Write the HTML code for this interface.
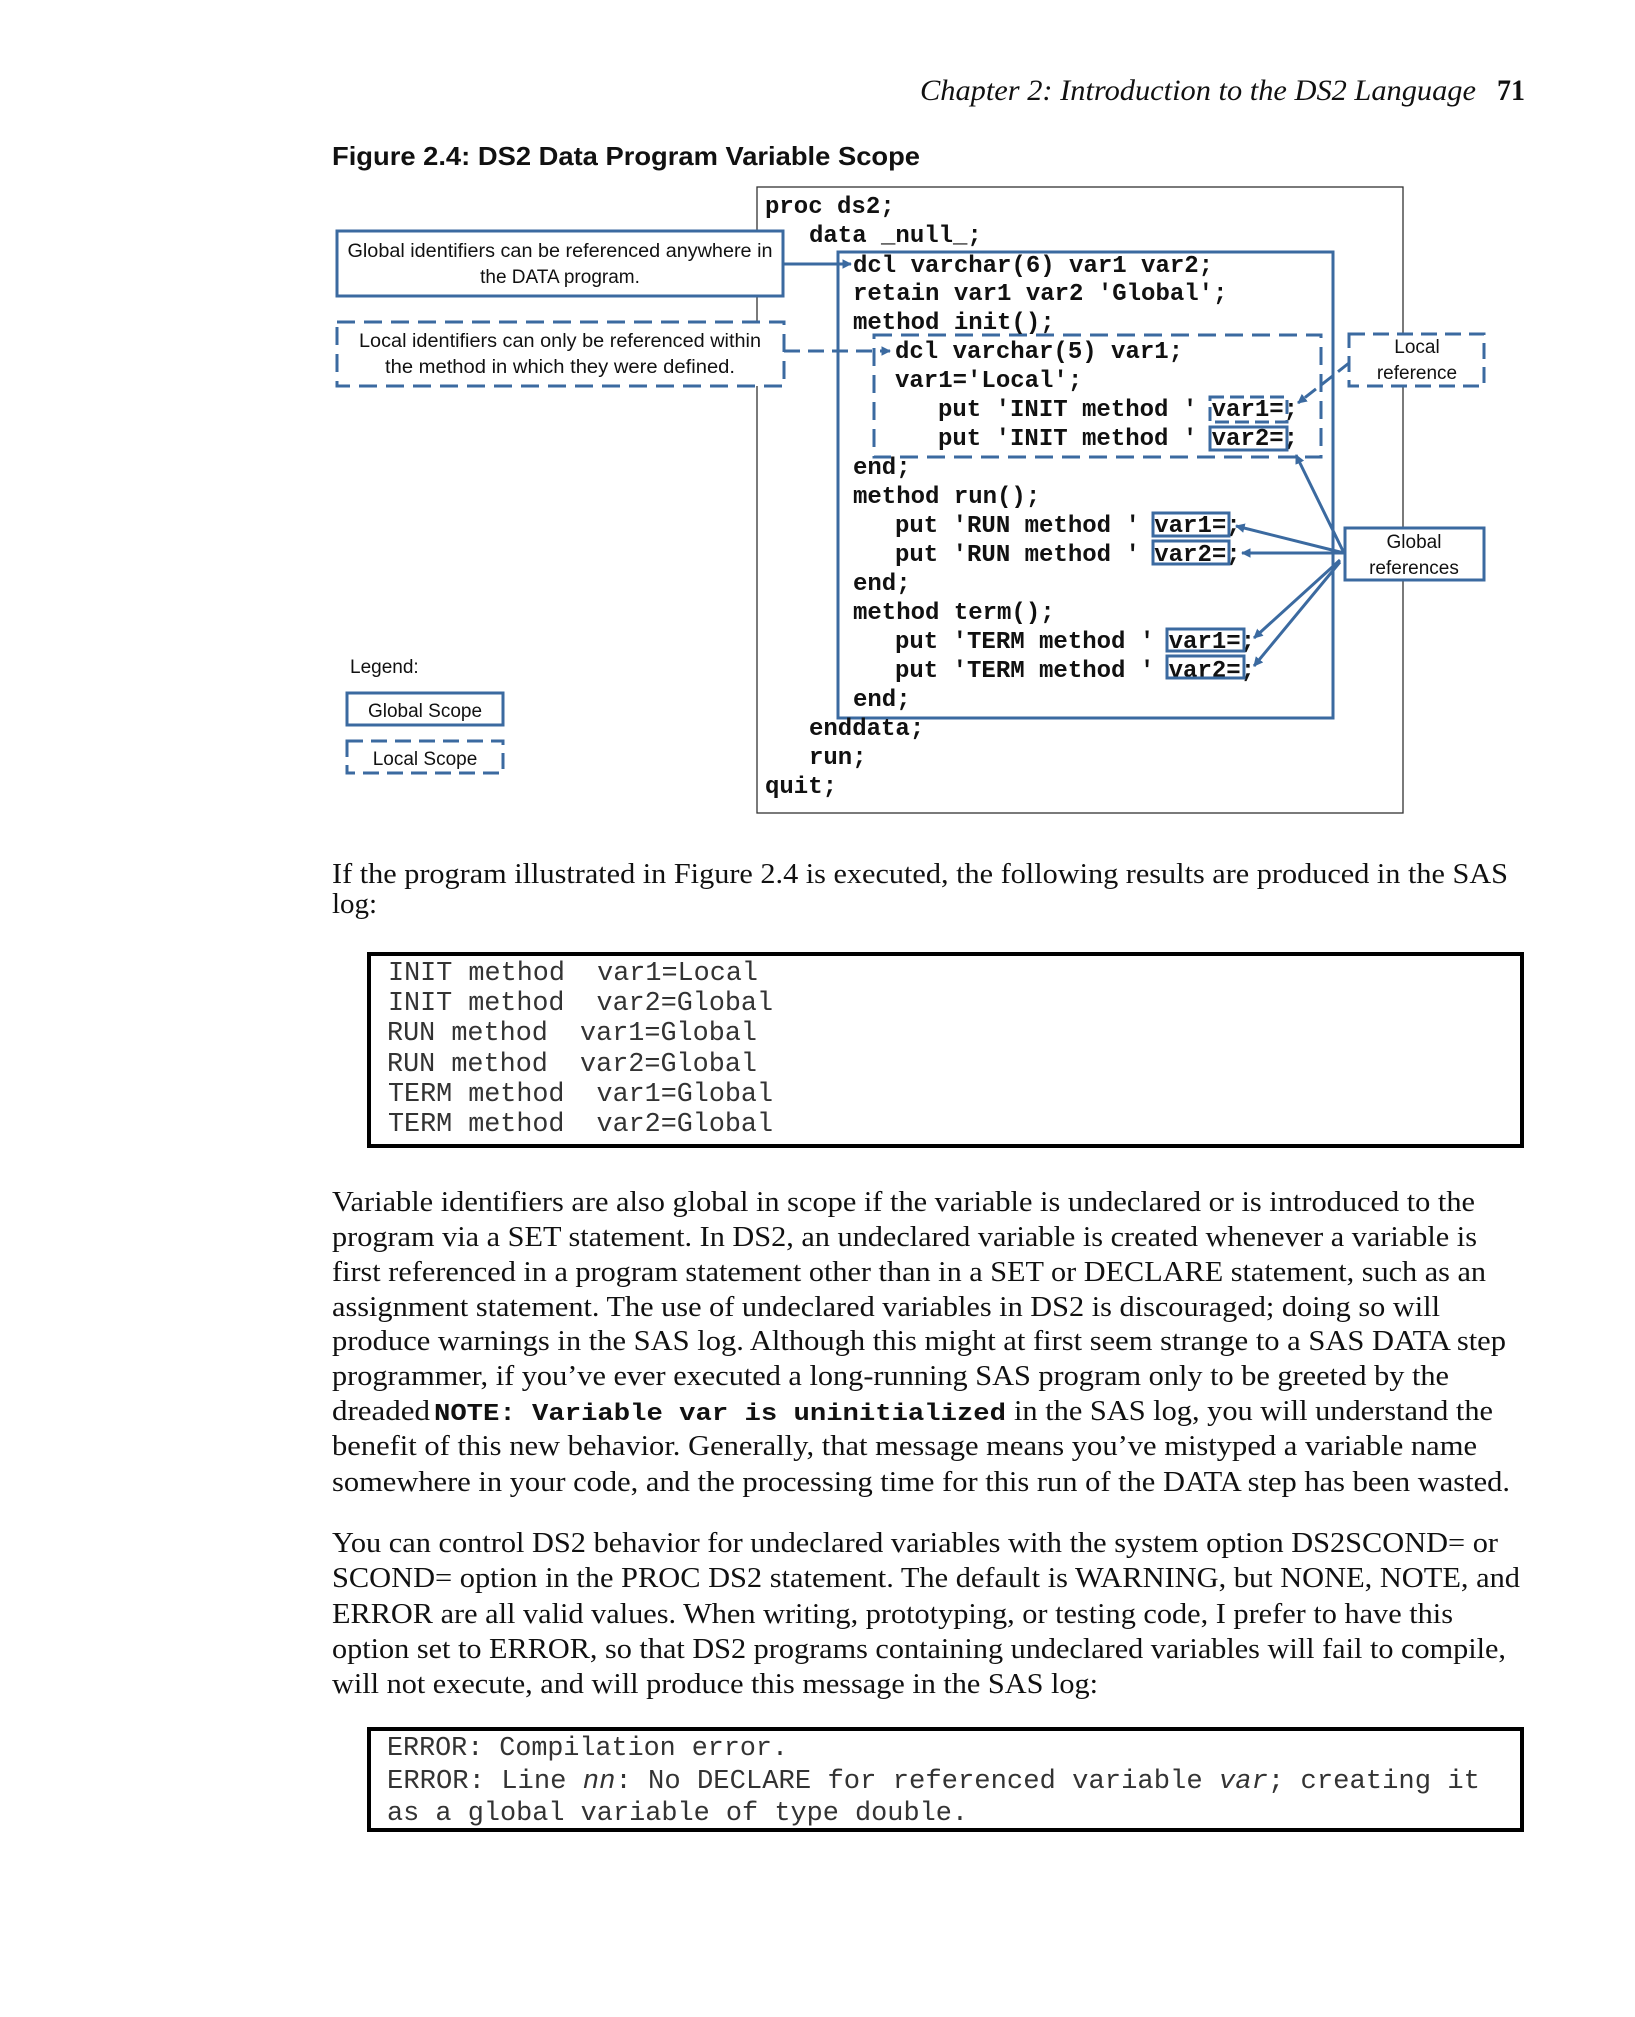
<!DOCTYPE html>
<html><head><meta charset="utf-8"><style>
html,body{margin:0;padding:0;background:#fff;}
svg{display:block;}
.code{font-family:"Liberation Mono",monospace;font-weight:bold;font-size:24px;fill:#111;}
.cal{font-family:"Liberation Sans",sans-serif;font-size:19px;fill:#111;}
.ser{font-family:"Liberation Serif",serif;font-size:29px;fill:#111;}
.log{font-family:"Liberation Mono",monospace;font-size:27px;fill:#333;}
</style></head><body>
<svg width="1635" height="2017" viewBox="0 0 1635 2017" xmlns="http://www.w3.org/2000/svg">
<defs>
<marker id="ah" viewBox="0 0 10 10" refX="9" refY="5" markerWidth="3.2" markerHeight="3.2" orient="auto"><path d="M0,0 L10,5 L0,10 z" fill="#3b6aa0"/></marker>
</defs>
<rect width="1635" height="2017" fill="#fff"/>
<text x="920" y="100" font-family="Liberation Serif,serif" font-style="italic" font-size="30" fill="#111" textLength="556" lengthAdjust="spacingAndGlyphs">Chapter 2: Introduction to the DS2 Language</text>
<text x="1497" y="100" font-family="Liberation Serif,serif" font-weight="bold" font-size="30" fill="#111" textLength="28" lengthAdjust="spacingAndGlyphs">71</text>
<text x="332" y="165" font-family="Liberation Sans,sans-serif" font-weight="bold" font-size="26" fill="#111" textLength="588" lengthAdjust="spacingAndGlyphs">Figure 2.4: DS2 Data Program Variable Scope</text>

<rect x="757" y="187" width="646" height="626" fill="none" stroke="#333" stroke-width="1.3"/>
<rect x="838" y="252" width="495" height="466" fill="none" stroke="#3b6aa0" stroke-width="3"/>
<rect x="874" y="335" width="447" height="122" fill="none" stroke="#3b6aa0" stroke-width="3" stroke-dasharray="18,9"/>

<rect x="337" y="231" width="446" height="65" fill="#fff" stroke="#3b6aa0" stroke-width="3"/>
<text class="cal" x="560" y="257" text-anchor="middle" textLength="425" lengthAdjust="spacingAndGlyphs">Global identifiers can be referenced anywhere in</text>
<text class="cal" x="560" y="283" text-anchor="middle">the DATA program.</text>
<rect x="337" y="322" width="447" height="64" fill="#fff" stroke="#3b6aa0" stroke-width="3" stroke-dasharray="18,9"/>
<text class="cal" x="560" y="347" text-anchor="middle" textLength="402" lengthAdjust="spacingAndGlyphs">Local identifiers can only be referenced within</text>
<text class="cal" x="560" y="373" text-anchor="middle" textLength="350" lengthAdjust="spacingAndGlyphs">the method in which they were defined.</text>
<line x1="783" y1="264" x2="851" y2="264" stroke="#3b6aa0" stroke-width="3" marker-end="url(#ah)"/>
<line x1="784" y1="351" x2="890" y2="351" stroke="#3b6aa0" stroke-width="3" stroke-dasharray="16,8" marker-end="url(#ah)"/>

<rect x="1349" y="334" width="135" height="52" fill="#fff" stroke="#3b6aa0" stroke-width="3" stroke-dasharray="16,8"/>
<text class="cal" x="1417" y="353" text-anchor="middle">Local</text>
<text class="cal" x="1417" y="379" text-anchor="middle">reference</text>
<rect x="1345" y="528" width="139" height="52" fill="#fff" stroke="#3b6aa0" stroke-width="3"/>
<text class="cal" x="1414" y="548" text-anchor="middle">Global</text>
<text class="cal" x="1414" y="574" text-anchor="middle">references</text>

<text class="cal" x="350" y="673" font-size="21">Legend:</text>
<rect x="347" y="693" width="156" height="32" fill="none" stroke="#3b6aa0" stroke-width="3"/>
<text class="cal" x="425" y="717" text-anchor="middle" font-size="21">Global Scope</text>
<rect x="347" y="741" width="156" height="32" fill="none" stroke="#3b6aa0" stroke-width="3" stroke-dasharray="16,8"/>
<text class="cal" x="425" y="765" text-anchor="middle" font-size="21">Local Scope</text>

<g class="code">
<text x="765" y="213">proc ds2;</text>
<text x="809" y="242">data _null_;</text>
<text x="853" y="272">dcl varchar(6) var1 var2;</text>
<text x="853" y="300">retain var1 var2 'Global';</text>
<text x="853" y="329">method init();</text>
<text x="895" y="358">dcl varchar(5) var1;</text>
<text x="895" y="387">var1='Local';</text>
<text x="938" y="416">put 'INIT method ' var1=;</text>
<text x="938" y="445">put 'INIT method ' var2=;</text>
<text x="853" y="474">end;</text>
<text x="853" y="503">method run();</text>
<text x="895" y="532">put 'RUN method ' var1=;</text>
<text x="895" y="561">put 'RUN method ' var2=;</text>
<text x="853" y="590">end;</text>
<text x="853" y="619">method term();</text>
<text x="895" y="648">put 'TERM method ' var1=;</text>
<text x="895" y="677">put 'TERM method ' var2=;</text>
<text x="853" y="706">end;</text>
<text x="809" y="735">enddata;</text>
<text x="809" y="764">run;</text>
<text x="765" y="793">quit;</text>
</g>
<g fill="none" stroke="#3b6aa0" stroke-width="3">
<rect x="1210" y="397" width="77" height="25" stroke-dasharray="14,6"/>
<rect x="1210" y="427" width="77" height="23"/>
<rect x="1153" y="513" width="76" height="23"/>
<rect x="1153" y="541" width="76" height="23"/>
<rect x="1167" y="629" width="77" height="22"/>
<rect x="1167" y="656" width="77" height="22"/>
</g>
<g stroke="#3b6aa0" stroke-width="3" fill="none">
<polyline points="1349,363 1330,378 1298,403" stroke-dasharray="14,7" marker-end="url(#ah)"/>
<line x1="1344" y1="553" x2="1296" y2="455" marker-end="url(#ah)"/>
<line x1="1344" y1="553" x2="1236" y2="526" marker-end="url(#ah)"/>
<line x1="1344" y1="553" x2="1242" y2="553" marker-end="url(#ah)"/>
<line x1="1340" y1="560" x2="1254" y2="638" marker-end="url(#ah)"/>
<line x1="1340" y1="562" x2="1254" y2="666" marker-end="url(#ah)"/>
</g>

<g class="ser">
<text x="332" y="883" textLength="1176" lengthAdjust="spacingAndGlyphs">If the program illustrated in Figure 2.4 is executed, the following results are produced in the SAS</text>
<text x="332" y="913">log:</text>
</g>
<rect x="369" y="954" width="1153" height="192" fill="none" stroke="#000" stroke-width="4"/>
<g class="log">
<text x="388" y="980" textLength="370" lengthAdjust="spacingAndGlyphs">INIT method &#160;var1=Local</text>
<text x="388" y="1010" textLength="385" lengthAdjust="spacingAndGlyphs">INIT method &#160;var2=Global</text>
<text x="387" y="1040" textLength="370" lengthAdjust="spacingAndGlyphs">RUN method &#160;var1=Global</text>
<text x="387" y="1071" textLength="370" lengthAdjust="spacingAndGlyphs">RUN method &#160;var2=Global</text>
<text x="388" y="1101" textLength="385" lengthAdjust="spacingAndGlyphs">TERM method &#160;var1=Global</text>
<text x="388" y="1131" textLength="385" lengthAdjust="spacingAndGlyphs">TERM method &#160;var2=Global</text>
</g>

<g class="ser">
<text x="332" y="1211" textLength="1143" lengthAdjust="spacingAndGlyphs">Variable identifiers are also global in scope if the variable is undeclared or is introduced to the</text>
<text x="332" y="1246" textLength="1145" lengthAdjust="spacingAndGlyphs">program via a SET statement. In DS2, an undeclared variable is created whenever a variable is</text>
<text x="332" y="1281" textLength="1154" lengthAdjust="spacingAndGlyphs">first referenced in a program statement other than in a SET or DECLARE statement, such as an</text>
<text x="332" y="1316" textLength="1108" lengthAdjust="spacingAndGlyphs">assignment statement. The use of undeclared variables in DS2 is discouraged; doing so will</text>
<text x="332" y="1350" textLength="1174" lengthAdjust="spacingAndGlyphs">produce warnings in the SAS log. Although this might at first seem strange to a SAS DATA step</text>
<text x="332" y="1385" textLength="1117" lengthAdjust="spacingAndGlyphs">programmer, if you’ve ever executed a long-running SAS program only to be greeted by the</text>
<text x="332" y="1420" textLength="98" lengthAdjust="spacingAndGlyphs">dreaded</text>
<text x="434" y="1420" font-family="Liberation Mono,monospace" font-weight="bold" font-size="24" textLength="572" lengthAdjust="spacingAndGlyphs">NOTE: Variable var is uninitialized</text>
<text x="1014" y="1420" textLength="479" lengthAdjust="spacingAndGlyphs">in the SAS log, you will understand the</text>
<text x="332" y="1455" textLength="1145" lengthAdjust="spacingAndGlyphs">benefit of this new behavior. Generally, that message means you’ve mistyped a variable name</text>
<text x="332" y="1491" textLength="1178" lengthAdjust="spacingAndGlyphs">somewhere in your code, and the processing time for this run of the DATA step has been wasted.</text>
</g>

<g class="ser">
<text x="332" y="1552" textLength="1166" lengthAdjust="spacingAndGlyphs">You can control DS2 behavior for undeclared variables with the system option DS2SCOND= or</text>
<text x="332" y="1587" textLength="1188" lengthAdjust="spacingAndGlyphs">SCOND= option in the PROC DS2 statement. The default is WARNING, but NONE, NOTE, and</text>
<text x="332" y="1623" textLength="1121" lengthAdjust="spacingAndGlyphs">ERROR are all valid values. When writing, prototyping, or testing code, I prefer to have this</text>
<text x="332" y="1658" textLength="1174" lengthAdjust="spacingAndGlyphs">option set to ERROR, so that DS2 programs containing undeclared variables will fail to compile,</text>
<text x="332" y="1693" textLength="766" lengthAdjust="spacingAndGlyphs">will not execute, and will produce this message in the SAS log:</text>
</g>

<rect x="369" y="1729" width="1153" height="101" fill="none" stroke="#000" stroke-width="4"/>
<g class="log">
<text x="387" y="1755" textLength="401" lengthAdjust="spacingAndGlyphs">ERROR: Compilation error.</text>
<text x="387" y="1788" textLength="1093" lengthAdjust="spacingAndGlyphs">ERROR: Line <tspan font-style="italic">nn</tspan>: No DECLARE for referenced variable <tspan font-style="italic">var</tspan>; creating it</text>
<text x="387" y="1820" textLength="581" lengthAdjust="spacingAndGlyphs">as a global variable of type double.</text>
</g>
</svg>
</body></html>
